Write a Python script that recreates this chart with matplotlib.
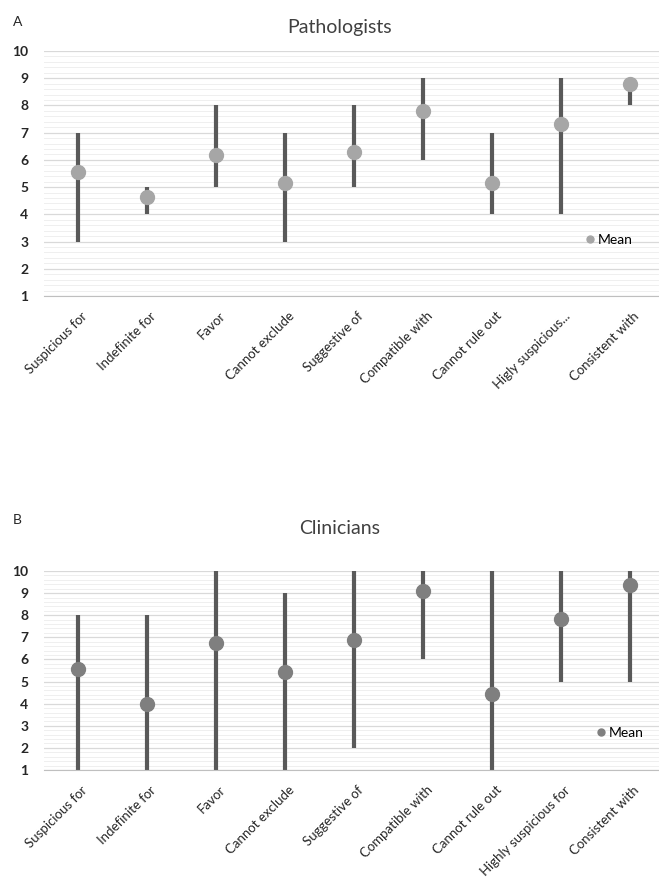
import numpy as np
import matplotlib
matplotlib.use("Agg")
import matplotlib.pyplot as plt
import matplotlib.transforms as mtransforms
from matplotlib.ticker import MultipleLocator

plt.rcParams['font.family'] = ['Lato', 'DejaVu Sans']

# Kategorien
cats_a = ['Suspicious for', 'Indefinite for', 'Favor', 'Cannot exclude',
          'Suggestive of', 'Compatible with', 'Cannot rule out',
          'Higly suspicious...', 'Consistent with']
cats_b = ['Suspicious for', 'Indefinite for', 'Favor', 'Cannot exclude',
          'Suggestive of', 'Compatible with', 'Cannot rule out',
          'Highly suspicious for', 'Consistent with']

# Pathologen
mean_a = [5.56, 4.63, 6.17, 5.15, 6.30, 7.81, 5.15, 7.32, 8.79]
low_a = [3, 4, 5, 3, 5, 6, 4, 4, 8]
high_a = [7, 5, 8, 7, 8, 9, 7, 9, 9]

# Kliniker
mean_b = [5.55, 3.98, 6.74, 5.43, 6.86, 9.08, 4.45, 7.85, 9.38]
low_b = [1, 1, 1, 1, 2, 6, 1, 5, 5]
high_b = [8, 8, 10, 9, 10, 10, 10, 10, 10]

fig = plt.figure(figsize=(6.59, 8.77), dpi=100)
H = 877.0
W = 659.0


def panel(rect, cats, mean, low, high, title, title_y, letter, letter_y,
          mcolor, leg_xy):
    ax = fig.add_axes(rect)
    x = np.arange(len(cats))
    ax.set_xlim(-0.5, len(cats) - 0.5)
    ax.set_ylim(1, 10)
    ax.yaxis.set_major_locator(MultipleLocator(1))
    ax.yaxis.set_minor_locator(MultipleLocator(0.2))
    ax.grid(True, which='minor', axis='y', color='#efefef', linewidth=0.7)
    ax.grid(True, which='major', axis='y', color='#d9d9d9', linewidth=0.9)
    ax.set_axisbelow(True)
    for s in ['top', 'right', 'left']:
        ax.spines[s].set_visible(False)
    ax.spines['bottom'].set_color('#bfbfbf')
    ax.tick_params(axis='both', which='both', length=0)
    ax.tick_params(axis='y', labelsize=10, pad=11, labelcolor='#262626')
    for lab in ax.get_yticklabels():
        lab.set_fontweight('bold')
    ax.set_xticks(x)
    ax.set_xticklabels(cats, rotation=45, ha='right', rotation_mode='anchor',
                       fontsize=9.5, color='#262626')
    ax.tick_params(axis='x', pad=10)
    shift = mtransforms.ScaledTranslation(3 / 100, 0, fig.dpi_scale_trans)
    for lab in ax.get_xticklabels():
        lab.set_transform(lab.get_transform() + shift)
    ax.vlines(x, low, high, color='#595959', linewidth=3)
    ax.plot(x, mean, 'o', color=mcolor, markersize=10, label='Mean', zorder=3)
    ax.legend(loc='center right', bbox_to_anchor=leg_xy, frameon=False,
              fontsize=10, markerscale=0.5, handletextpad=0.1, borderpad=0,
              handlelength=1)
    fig.text(340 / W, 1 - title_y / H, title, fontsize=14, color='#404040',
             ha='center', va='center')
    fig.text(13 / W, 1 - letter_y / H, letter, fontsize=10, color='#262626',
             va='center')
    return ax


w = 621 / W
panel([43.5 / W, 1 - 296 / H, w, (296 - 51) / H], cats_a, mean_a,
      low_a, high_a, 'Pathologists', 27, 'A', 22, '#a6a6a6', (0.96, 0.23))
panel([43.5 / W, 1 - 770 / H, w, (770 - 571) / H], cats_b, mean_b,
      low_b, high_b, 'Clinicians', 529, 'B', 520, '#7f7f7f', (0.978, 0.185))

fig.savefig('out.png', dpi=100)
